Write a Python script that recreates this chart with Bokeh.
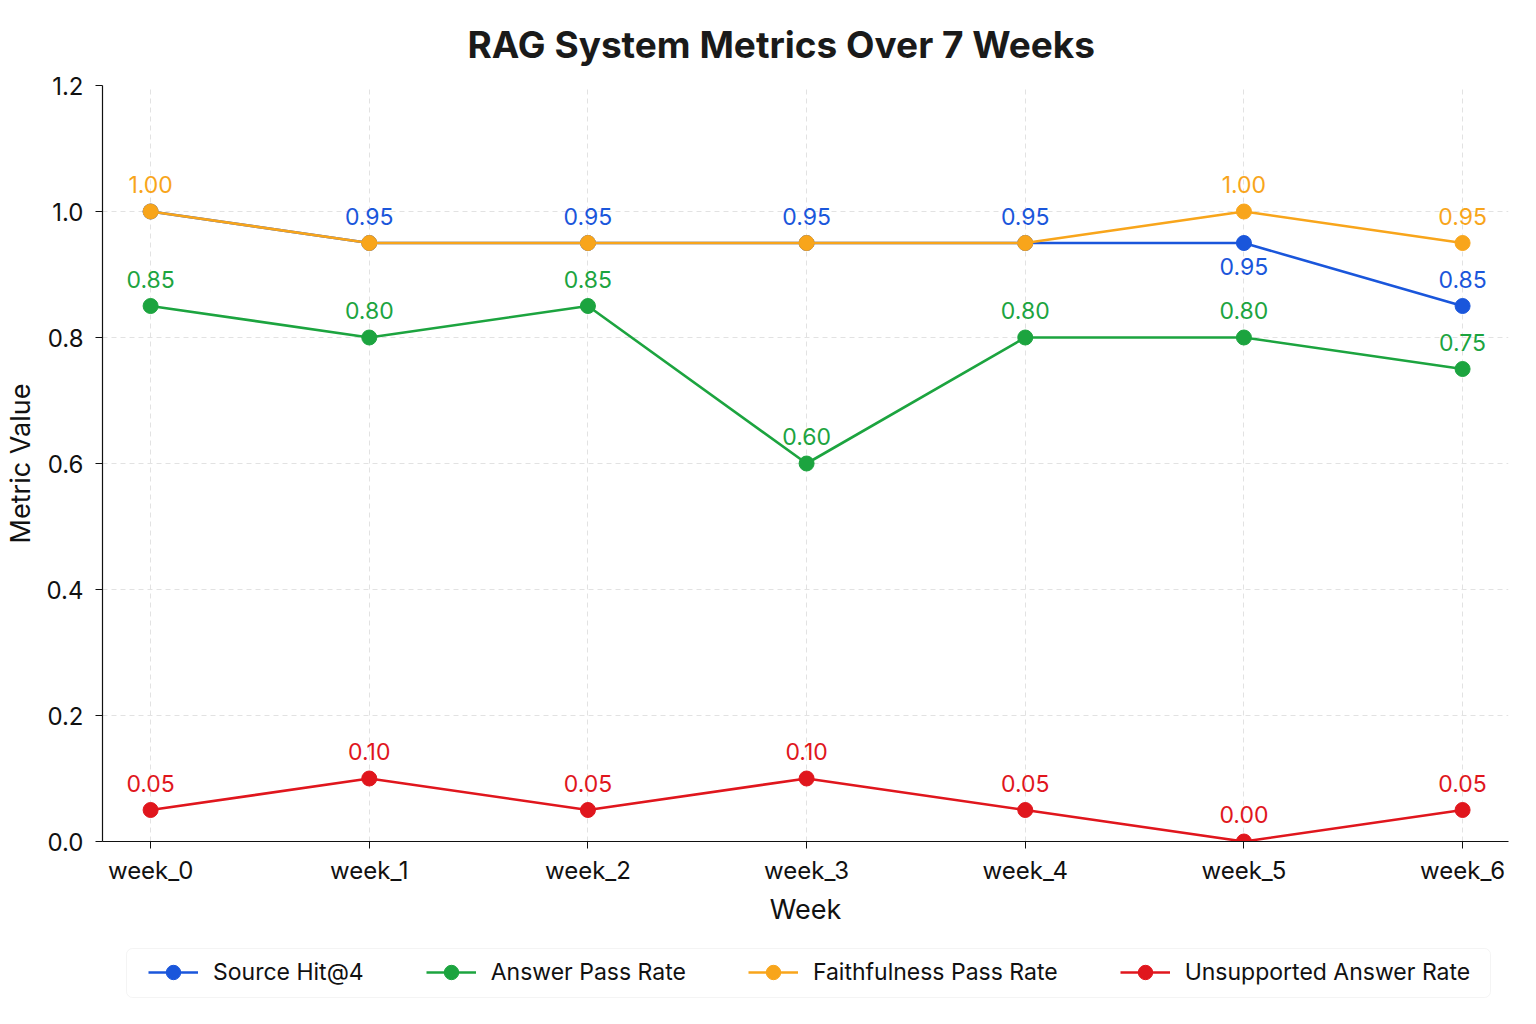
from bokeh.plotting import figure
from bokeh.layouts import column
from bokeh.models import (ColumnDataSource, Range1d, FixedTicker, Legend,
                          LegendItem, BoxAnnotation)
from bokeh.core.properties import value
from bokeh.embed import file_html
from bokeh.resources import INLINE

# ---- data -------------------------------------------------------------
weeks = ["week_0", "week_1", "week_2", "week_3", "week_4", "week_5", "week_6"]

source_hit = [1.00, 0.95, 0.95, 0.95, 0.95, 0.95, 0.85]
answer_pass = [0.85, 0.80, 0.85, 0.60, 0.80, 0.80, 0.75]
faithfulness_pass = [1.00, 0.95, 0.95, 0.95, 0.95, 1.00, 0.95]
unsupported = [0.05, 0.10, 0.05, 0.10, 0.05, 0.00, 0.05]

series_names = ["Source Hit@4", "Answer Pass Rate",
                "Faithfulness Pass Rate", "Unsupported Answer Rate"]
series_values = [source_hit, answer_pass, faithfulness_pass, unsupported]
series_colors = ["#1a56db", "#1ca43f", "#f8a51b", "#e0161d"]

y_ticks = [0.0, 0.2, 0.4, 0.6, 0.8, 1.0, 1.2]

FONT = "Inter"
LINE_W = 2.6
DOT = 15

# ---- main chart -------------------------------------------------------
p = figure(frame_width=1406, frame_height=756, output_backend="svg",
           toolbar_location=None,
           x_range=Range1d(-0.22, 6.21), y_range=Range1d(0, 1.2),
           min_border_left=102, min_border_right=28, min_border_top=85,
           min_border_bottom=99, background_fill_color="white",
           border_fill_color="white", outline_line_color=None)

p.title.text = "RAG System Metrics Over 7 Weeks"
p.title.text_font = FONT
p.title.text_font_size = "37px"
p.title.text_font_style = "bold"
p.title.text_color = "#1a1a1a"
p.title.align = "left"
p.title.offset = 365
p.title.standoff = 37

xs = list(range(len(weeks)))
p.xaxis.ticker = FixedTicker(ticks=xs)
p.xaxis.major_label_overrides = {i: w for i, w in enumerate(weeks)}
p.yaxis.ticker = FixedTicker(ticks=y_ticks)
p.yaxis.major_label_overrides = {t: f"{t:.1f}" for t in y_ticks}
p.xaxis.axis_label = "Week"
p.yaxis.axis_label = "Metric Value"
for ax in (p.xaxis, p.yaxis):
    ax.axis_label_text_font = FONT
    ax.axis_label_text_font_size = "27px"
    ax.axis_label_text_font_style = "normal"
    ax.axis_label_text_color = "#111111"
    ax.major_label_text_font = FONT
    ax.major_label_text_font_size = "24px"
    ax.major_label_text_color = "#111111"
    ax.axis_line_color = "#111111"
    ax.axis_line_width = 1.2
    ax.major_tick_line_color = "#111111"
    ax.major_tick_out = 7
    ax.major_tick_in = 0
    ax.minor_tick_line_color = None
p.xaxis.major_label_standoff = 7
p.xaxis.axis_label_standoff = 5
p.yaxis.major_label_standoff = 12
p.yaxis.axis_label_standoff = 7

for g in (p.xgrid, p.ygrid):
    g.grid_line_color = "#e2e2e2"
    g.grid_line_dash = "5 4"
    g.grid_line_width = 1
p.ygrid.ticker = FixedTicker(ticks=y_ticks)

for vals, col in zip(series_values, series_colors):
    src = ColumnDataSource(dict(x=xs, y=vals))
    p.line("x", "y", source=src, line_color=col, line_width=LINE_W)
    p.scatter("x", "y", source=src, size=DOT, fill_color=col, line_color=col)

# ---- value labels -----------------------------------------------------
# A label sits above its point unless it would collide with another
# series at the same week; equal values at one week share one label,
# owned by the first series unless tie_owner names another.
below = {("Source Hit@4", 5)}
tie_owner = {0: "Faithfulness Pass Rate"}

labels = {}
for i in xs:
    for name, vals, col in zip(series_names, series_values, series_colors):
        key = (i, round(vals[i], 4))
        if key in labels and tie_owner.get(i) != name:
            continue
        labels[key] = (name, col, 23 if (name, i) in below else -27)

lab_src = ColumnDataSource(dict(
    x=[k[0] for k in labels],
    y=[k[1] for k in labels],
    text=[f"{k[1]:.2f}" for k in labels],
    color=[v[1] for v in labels.values()],
    off=[v[2] for v in labels.values()],
))
p.text("x", "y", text="text", source=lab_src, text_color="color",
       text_font=value(FONT), text_font_size="23px", text_align="center",
       text_baseline="middle", y_offset="off")

# ---- legend strip under the chart --------------------------------------
# The strip's frame lines up with the chart's frame (x from 102 px);
# its series renderers stay hidden and only feed the legend swatches.
leg = figure(width=1536, height=84, output_backend="svg", toolbar_location=None,
             x_range=Range1d(-0.22, 6.21), y_range=Range1d(0, 1.2),
             x_axis_type=None, y_axis_type=None,
             min_border_left=102, min_border_right=28,
             min_border_top=0, min_border_bottom=0, outline_line_color=None,
             background_fill_color="white", border_fill_color="white")

# rounded frame behind the legend entries (frame-relative px, y up)
leg.add_layout(BoxAnnotation(left=24, right=1388, bottom=27, top=76,
                             left_units="screen", right_units="screen",
                             top_units="screen", bottom_units="screen",
                             fill_color="white", fill_alpha=1.0,
                             line_color="#dcdcdc", line_width=1,
                             border_radius=6))

items = []
for name, vals, col in zip(series_names, series_values, series_colors):
    src = ColumnDataSource(dict(x=xs, y=vals))
    ln = leg.line("x", "y", source=src, line_color=col, line_width=LINE_W,
                  visible=False)
    sc = leg.scatter("x", "y", source=src, size=DOT, fill_color=col,
                     line_color=col, visible=False)
    items.append(LegendItem(label=name, renderers=[ln, sc]))

legend = Legend(items=items, orientation="horizontal", location=(46, 34))
legend.label_text_font = FONT
legend.label_text_font_size = "23px"
legend.label_text_color = "#111111"
legend.glyph_width = 50
legend.glyph_height = 36
legend.label_height = 36
legend.label_standoff = 15
legend.spacing = 62
legend.padding = 7
legend.margin = 0
legend.border_line_color = None
legend.background_fill_alpha = 0
leg.add_layout(legend, "center")

open("out.html", "w").write(file_html(column(p, leg, spacing=0), INLINE))
